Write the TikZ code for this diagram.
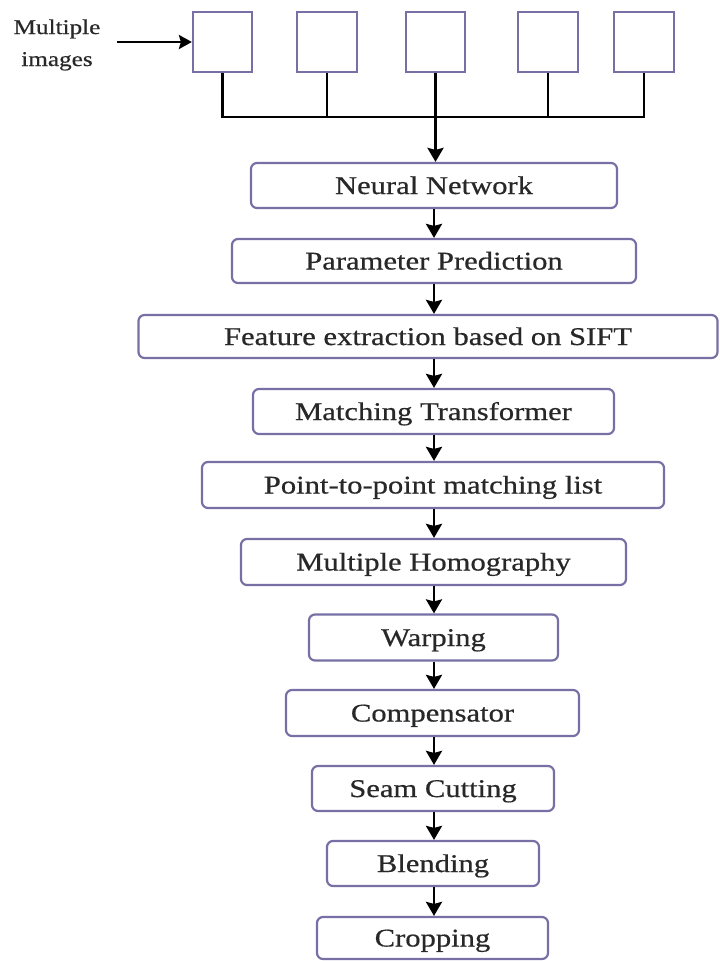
\documentclass[tikz,border=0pt]{standalone}
\usepackage{fontspec}
\usepackage{graphicx}
\setmainfont{Liberation Serif}
\newfontfamily\labfont{Liberation Serif}[FakeBold=0.5]
\usetikzlibrary{arrows.meta}
\definecolor{boxc}{RGB}{118,112,165}
\definecolor{txtc}{RGB}{40,40,40}
\newcommand{\wide}[1]{\scalebox{1.2}[1]{#1}}
\begin{document}
\begin{tikzpicture}[x=1pt,y=-1pt,
  stage/.style={draw=boxc, line width=2.2pt, rounded corners=6pt, inner sep=0pt, fill=white,
    text=txtc, font=\labfont\fontsize{25.5}{30}\selectfont, text height=17pt, text depth=0pt},
  img/.style={draw=boxc, line width=2.2pt, inner sep=0pt, minimum height=60pt, fill=white},
  link/.style={line width=2.4pt, draw=black},
  flow/.style={line width=2.6pt, draw=black, -{Stealth[length=14pt,width=16pt,inset=2pt]}}]
\useasboundingbox (0,0) rectangle (720,961);

% input images
\node[img, minimum width=59pt] (i1) at (222.5,42) {};
\node[img, minimum width=60pt] (i2) at (327,42) {};
\node[img, minimum width=59pt] (i3) at (435.5,42) {};
\node[img, minimum width=60pt] (i4) at (548,42) {};
\node[img, minimum width=60pt] (i5) at (644,42) {};

\node[text=txtc, font=\labfont\fontsize{21}{32}\selectfont, align=center, inner sep=0pt] (lbl) at (57,45) {\wide{Multiple}\\\wide{images}};
\coordinate (in) at (117,42);
\draw[flow, line width=2.4pt, -{Stealth[length=13pt,width=14pt,inset=2pt]}] (in) -- (i1.west);

% stages
\node[stage, minimum width=366pt, minimum height=45pt] (nn) at (434,185.5) {\wide{Neural Network}};
\node[stage, minimum width=404pt, minimum height=44pt] (pp) at (434,261) {\wide{Parameter Prediction}};
\node[stage, minimum width=579pt, minimum height=43pt] (fe) at (428,336.5) {\wide{Feature extraction based on SIFT}};
\node[stage, minimum width=361pt, minimum height=45pt] (mt) at (433.5,411.5) {\wide{Matching Transformer}};
\node[stage, minimum width=462pt, minimum height=46pt] (pm) at (433,485) {\wide{Point-to-point matching list}};
\node[stage, minimum width=385pt, minimum height=46pt] (mh) at (433.5,562) {\wide{Multiple Homography}};
\node[stage, minimum width=249pt, minimum height=46pt] (wa) at (433.5,637.5) {\wide{Warping}};
\node[stage, minimum width=293pt, minimum height=46pt] (co) at (432.5,713) {\wide{Compensator}};
\node[stage, minimum width=242pt, minimum height=45pt] (sc) at (433,788.5) {\wide{Seam Cutting}};
\node[stage, minimum width=212pt, minimum height=45pt] (bl) at (433,863.5) {\wide{Blending}};
\node[stage, minimum width=231pt, minimum height=42pt] (cr) at (432.5,938) {\wide{Cropping}};

% collector bus
\coordinate (bus) at (435.5,117);
\draw[link] (i1.south) |- (bus) -| (i5.south);
\draw[link] (i2.south) -- (i2.south |- bus);
\draw[link] (i4.south) -- (i4.south |- bus);
\draw[flow, line width=2.8pt] (i3.south) -- (i3.south |- nn.north);

% flow arrows
\coordinate (ax) at (434,0);
\draw[flow] (ax |- nn.south) -- (ax |- pp.north);
\draw[flow] (ax |- pp.south) -- (ax |- fe.north);
\draw[flow] (ax |- fe.south) -- (ax |- mt.north);
\draw[flow] (ax |- mt.south) -- (ax |- pm.north);
\draw[flow] (ax |- pm.south) -- (ax |- mh.north);
\draw[flow] (ax |- mh.south) -- (ax |- wa.north);
\draw[flow] (ax |- wa.south) -- (ax |- co.north);
\draw[flow] (ax |- co.south) -- (ax |- sc.north);
\draw[flow] (ax |- sc.south) -- (ax |- bl.north);
\draw[flow] (ax |- bl.south) -- (ax |- cr.north);
\end{tikzpicture}
\end{document}
